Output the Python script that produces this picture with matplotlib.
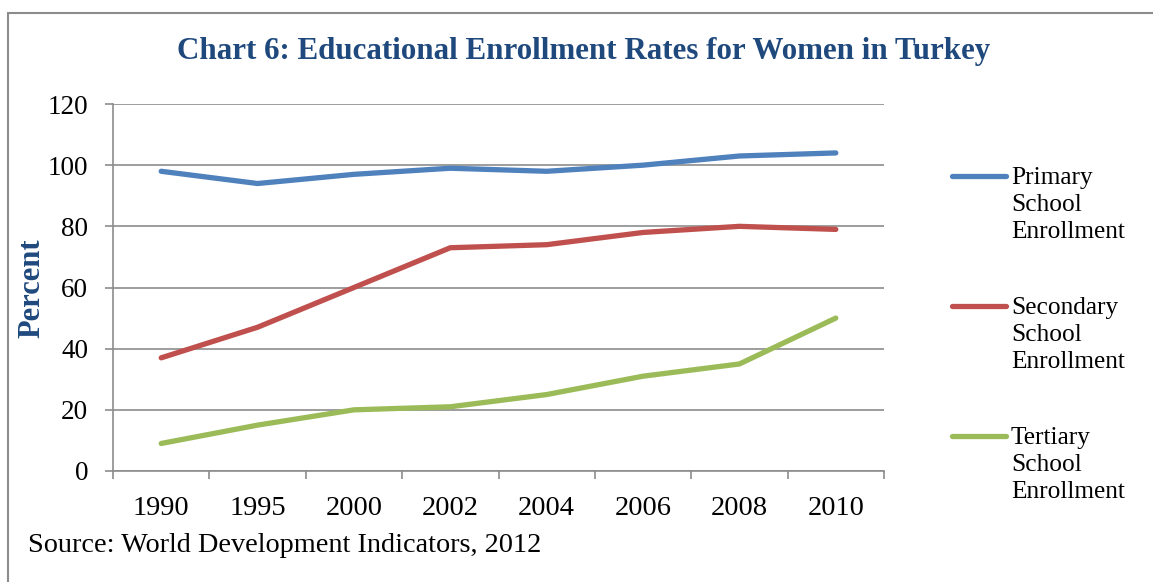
import matplotlib
matplotlib.use('Agg')
import matplotlib.pyplot as plt
from matplotlib.lines import Line2D
from matplotlib.patches import Rectangle

plt.rcParams['font.family'] = ['Liberation Serif', 'DejaVu Serif']

years = ['1990', '1995', '2000', '2002', '2004', '2006', '2008', '2010']
primary = [98, 94, 97, 99, 98, 100, 103, 104]
secondary = [37, 47, 60, 73, 74, 78, 80, 79]
tertiary = [9, 15, 20, 21, 25, 31, 35, 50]
series_names = ['Primary\nSchool\nEnrollment', 'Secondary\nSchool\nEnrollment', 'Tertiary\nSchool\nEnrollment']
series_colors = ['#4F81BD', '#C0504D', '#9BBB59']

W, H = 1153, 582
fig = plt.figure(figsize=(W / 100, H / 100), dpi=100)

# rahmen
fig.add_artist(Rectangle((8 / W, -0.1), 1.2, 1 - 13 / H + 0.1, transform=fig.transFigure,
                         fill=False, edgecolor='#8C8C8C', lw=1.5))

ax = fig.add_axes([113 / W, 1 - 471 / H, (884 - 113) / W, (471 - 104) / H])

x = list(range(len(years)))
for vals, c in zip([primary, secondary, tertiary], series_colors):
    ax.plot(x, vals, color=c, lw=3.8, solid_capstyle='round', solid_joinstyle='round', zorder=3)

ax.set_xlim(-0.5, len(years) - 0.5)
ax.set_ylim(0, 120)
ax.set_yticks(range(0, 121, 20))
ax.set_xticks(x)
ax.set_xticklabels(years)
ax.set_xticks([i - 0.5 for i in range(len(years) + 1)], minor=True)
ax.grid(axis='y', color='#8C8C8C', lw=1.2)
ax.set_axisbelow(True)
for s in ['top', 'right']:
    ax.spines[s].set_visible(False)
for s in ['left', 'bottom']:
    ax.spines[s].set_color('#8C8C8C')
    ax.spines[s].set_linewidth(1.2)
ax.tick_params(axis='x', which='major', length=0, pad=18, labelsize=20.5)
ax.tick_params(axis='x', which='minor', length=6, color='#8C8C8C', width=1.2)
ax.tick_params(axis='y', length=6, color='#8C8C8C', width=1.2, pad=12, labelsize=19.5)

fig.text(584 / W, 1 - 52 / H, 'Chart 6: Educational Enrollment Rates for Women in Turkey',
         ha='center', va='center', fontsize=22.3, fontweight='bold', color='#1F497D')
fig.text(32 / W, 1 - 288 / H, 'Percent', rotation=90, ha='center', va='center',
         fontsize=22, fontweight='bold', color='#1F497D')
fig.text(28 / W, 1 - 545 / H, 'Source: World Development Indicators, 2012',
         ha='left', va='center', fontsize=20.3)

# legende
for i, (name, c) in enumerate(zip(series_names, series_colors)):
    ly = 1 - (176 + 130 * i) / H
    fig.add_artist(Line2D([952 / W, 1006 / W], [ly, ly], transform=fig.transFigure,
                          color=c, lw=3.8, solid_capstyle='round'))
    fig.text(1011 / W, ly + 9 / H, name, ha='left', va='top', fontsize=18.3, linespacing=1.3)

fig.savefig('out.png', dpi=100)
